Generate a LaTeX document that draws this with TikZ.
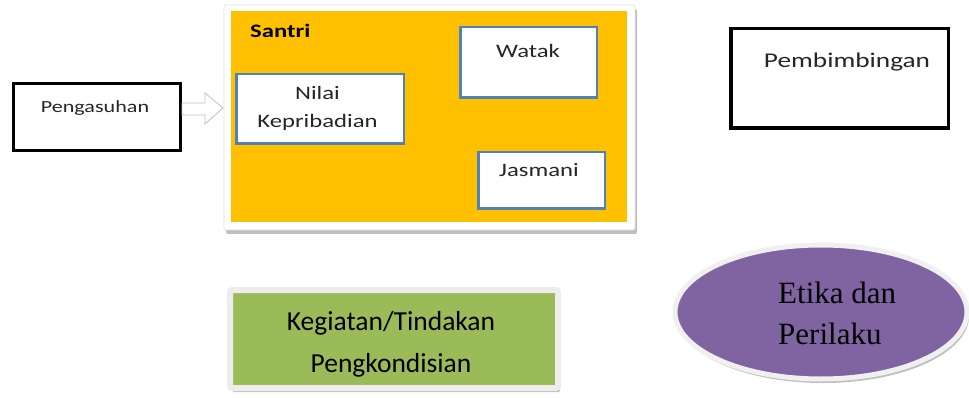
\documentclass[tikz,border=0pt]{standalone}
\usepackage{fontspec}
\setmainfont{Carlito}
\newfontfamily\widefont[FakeStretch=1.3]{Carlito}
\newfontfamily\timesfont{Liberation Serif}
\usetikzlibrary{positioning,shapes.geometric,shadows}
\definecolor{santriorange}{HTML}{FFC000}
\definecolor{boxblue}{HTML}{4F81BD}
\definecolor{kegiatangreen}{HTML}{9BBB59}
\definecolor{etikapurple}{HTML}{8064A2}

\begin{document}
\begin{tikzpicture}[x=1pt,y=-1pt]
\tikzstyle{every node}+=[inner sep=0pt]
\tikzstyle{blackbox}=[draw=black,line width=3pt,fill=white]
\tikzstyle{bluebox}=[draw=boxblue,line width=2.5pt,fill=white]
\tikzstyle{toptext}=[anchor=base,text=black!85,align=center,font=\widefont\fontsize{19}{28}\selectfont]
\tikzstyle{softshadow}=[drop shadow={shadow xshift=2pt,shadow yshift=-4pt,opacity=.5}]
\tikzstyle{hollowarrow}=[draw=black!25,fill=white,line width=.8pt,line join=miter]
\useasboundingbox (0,0) rectangle (969,398);
% Pengasuhan
\node [blackbox,minimum width=167pt,minimum height=67pt] (peng) at (97,117) {};
\node [toptext,font=\widefont\fontsize{17}{20}\selectfont] (pengtext) at (95,113) {Pengasuhan};
% Santri
\node [fill=white,draw=black!12,line width=.6pt,rounded corners=2pt,softshadow,minimum width=411pt,minimum height=225pt] (frame) at (429.5,117.5) {};
\node [fill=santriorange,minimum width=396pt,minimum height=211pt] (santri) at (429,116.5) {};
\node [anchor=base west,font=\widefont\bfseries\fontsize{19}{20}\selectfont] (santritext) at (250,38) {Santri};
\node [bluebox,minimum width=167.5pt,minimum height=69.5pt] (nilai) at (320,109) {};
\node [toptext] (nilaitext) at (317.5,128) {Nilai\\Kepribadian};
\node [bluebox,minimum width=136.5pt,minimum height=70.5pt] (watak) at (528.5,62.5) {};
\node [toptext] (wataktext) at (528,58) {Watak};
\node [bluebox,minimum width=126.5pt,minimum height=56.5pt] (jasmani) at (541.5,180.5) {};
\node [toptext] (jasmanitext) at (539,177) {Jasmani};
% arrow into santri
\draw [hollowarrow] (peng.east) ++(0,-14) -- ++(23,0) -- ++(0,-10) -- ++(18,15) -- ++(-18,16) -- ++(0,-9) -- ++(-23,0) -- cycle;
% Pembimbingan
\node [blackbox,line width=3.5pt,minimum width=217.5pt,minimum height=99.5pt] (bimbing) at (839.5,78.5) {};
\node [toptext,font=\widefont\fontsize{21}{24}\selectfont] (bimbingtext) at (847,68) {Pembimbingan};
% Kegiatan
\node [fill=kegiatangreen,draw=black!7,line width=6pt,rounded corners=2pt,softshadow,minimum width=328pt,minimum height=98pt] (kegiatan) at (394,339) {};
\node [anchor=base,align=center,font=\fontsize{27.5}{42}\selectfont] (kegiatantext) at (391,372) {Kegiatan/Tindakan\\Pengkondisian};
% Etika
\node [ellipse,fill=etikapurple,draw=black!6,line width=5pt,softshadow,minimum width=292pt,minimum height=134pt] (etika) at (821,312) {};
\node [anchor=base west,align=left,font=\timesfont\fontsize{31}{41}\selectfont] (etikatext) at (778,344) {Etika dan\\Perilaku};
\end{tikzpicture}
\end{document}
